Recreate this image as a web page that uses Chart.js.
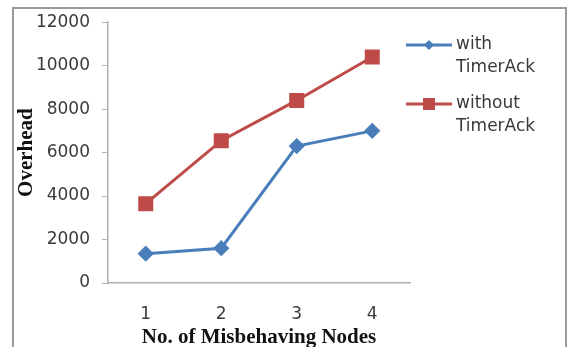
<!DOCTYPE html>
<html>
<head>
<meta charset="utf-8">
<script src="https://cdn.jsdelivr.net/npm/chart.js@4/dist/chart.umd.min.js"></script>
<style>
html,body{margin:0;padding:0;background:#fff;}
#wrap{width:568px;height:347px;position:relative;}
</style>
</head>
<body>
<div id="wrap"><canvas id="c" width="568" height="347"></canvas></div>
<script>
const categories = ['1', '2', '3', '4'];
const withTimerAck = [1350, 1600, 6300, 7000];
const withoutTimerAck = [3650, 6550, 8400, 10400];
const seriesLabels = [['with', 'TimerAck'], ['without', 'TimerAck']];
const yTicks = [0, 2000, 4000, 6000, 8000, 10000, 12000];

const blue = '#4a7ebb';
const red = '#be4b48';

const framePlugin = {
  id: 'frame',
  beforeDraw(chart) {
    const ctx = chart.ctx;
    ctx.save();
    ctx.fillStyle = '#ffffff';
    ctx.fillRect(0, 0, chart.width, chart.height);
    ctx.strokeStyle = '#9a9a9a';
    ctx.lineWidth = 2;
    ctx.strokeRect(13, 8, 553, 400);
    ctx.restore();
  }
};

const legendPlugin = {
  id: 'customLegend',
  afterDraw(chart) {
    const ctx = chart.ctx;
    const x0 = 406, x1 = 452, tx = 456;
    const rows = [45, 104];
    ctx.save();
    chart.data.datasets.forEach((ds, i) => {
      const y = rows[i];
      ctx.strokeStyle = ds.borderColor;
      ctx.lineWidth = 3;
      ctx.beginPath();
      ctx.moveTo(x0, y);
      ctx.lineTo(x1, y);
      ctx.stroke();
      ctx.fillStyle = ds.backgroundColor;
      const cx = (x0 + x1) / 2;
      if (ds.pointStyle === 'rectRot') {
        ctx.beginPath();
        ctx.moveTo(cx - 5, y); ctx.lineTo(cx, y - 5); ctx.lineTo(cx + 5, y); ctx.lineTo(cx, y + 5);
        ctx.closePath(); ctx.fill();
      } else {
        ctx.fillRect(cx - 6, y - 6, 12, 12);
      }
      ctx.fillStyle = '#3a3a3a';
      ctx.font = '17px "DejaVu Sans"';
      ctx.textBaseline = 'middle';
      ctx.textAlign = 'left';
      ds.label.forEach((line, j) => {
        ctx.fillText(line, tx, y + j * 23);
      });
    });
    ctx.restore();
  }
};

new Chart(document.getElementById('c'), {
  type: 'line',
  data: {
    labels: categories,
    datasets: [
      {
        label: seriesLabels[0],
        data: withTimerAck,
        borderColor: blue,
        backgroundColor: blue,
        borderWidth: 3,
        pointStyle: 'rectRot',
        pointRadius: 6,
        pointHoverRadius: 6,
        tension: 0
      },
      {
        label: seriesLabels[1],
        data: withoutTimerAck,
        borderColor: red,
        backgroundColor: red,
        borderWidth: 3,
        pointStyle: 'rect',
        pointRadius: 8.5,
        pointHoverRadius: 8.5,
        tension: 0
      }
    ]
  },
  options: {
    responsive: false,
    animation: false,
    devicePixelRatio: 1,
    layout: { padding: { left: 14, right: 158, top: 22, bottom: 0 } },
    plugins: {
      legend: { display: false },
      tooltip: { enabled: false }
    },
    scales: {
      x: {
        offset: true,
        afterFit(scale) { scale.height = 64; },
        grid: { display: false, drawTicks: false },
        border: { display: true, color: '#b0b0b0', width: 1.5 },
        ticks: { color: '#3a3a3a', font: { family: 'DejaVu Sans', size: 17 }, padding: 21 },
        title: {
          display: true,
          text: 'No. of Misbehaving Nodes',
          color: '#111111',
          font: { family: 'Liberation Serif', size: 21, weight: 'bold' },
          padding: { top: 0, bottom: -3 }
        }
      },
      y: {
        min: 0,
        max: 12000,
        afterBuildTicks(scale) { scale.ticks = yTicks.map(v => ({ value: v })); },
        afterFit(scale) { scale.width = 94; },
        grid: { display: true, drawOnChartArea: false, drawTicks: true, tickLength: 6, color: '#b0b0b0' },
        border: { display: true, color: '#b0b0b0', width: 1.5 },
        ticks: {
          color: '#3a3a3a',
          font: { family: 'DejaVu Sans', size: 17 },
          padding: 12,
          callback: (v) => String(v)
        },
        title: {
          display: true,
          text: 'Overhead',
          color: '#111111',
          font: { family: 'Liberation Serif', size: 21, weight: 'bold' },
          padding: { top: 0, bottom: 0 }
        }
      }
    }
  },
  plugins: [framePlugin, legendPlugin]
});
</script>
</body>
</html>
